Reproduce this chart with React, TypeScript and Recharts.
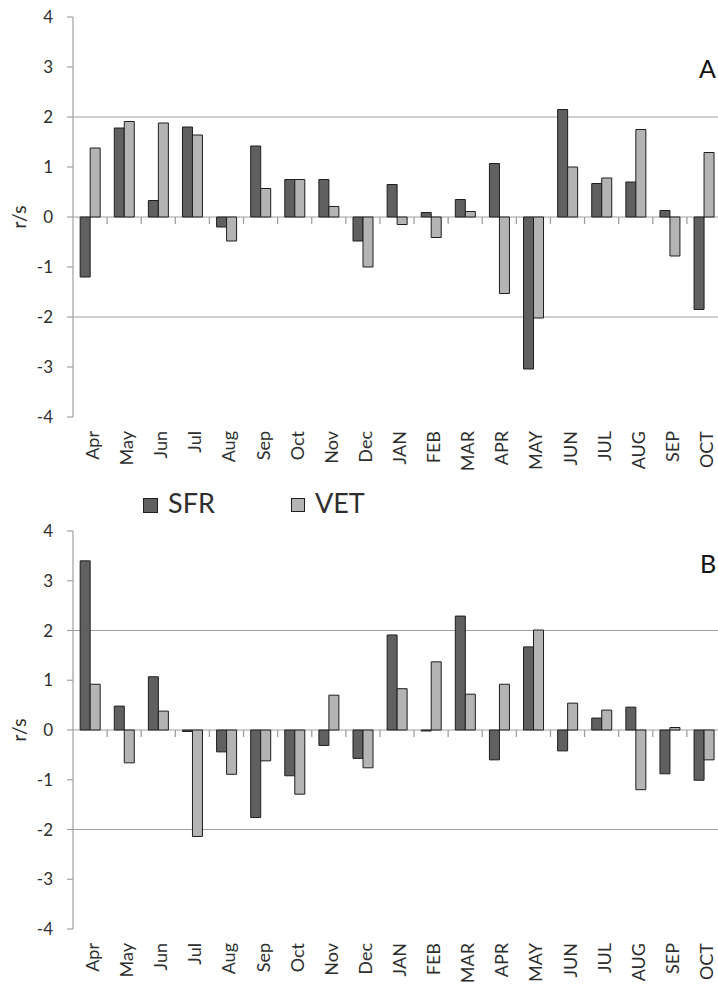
import { Bar, BarChart, CartesianGrid, XAxis, YAxis } from "recharts";

const months = ["Apr", "May", "Jun", "Jul", "Aug", "Sep", "Oct", "Nov", "Dec", "JAN", "FEB", "MAR", "APR", "MAY", "JUN", "JUL", "AUG", "SEP", "OCT"];

const sfrA = [-1.2, 1.78, 0.33, 1.8, -0.2, 1.42, 0.75, 0.75, -0.48, 0.65, 0.09, 0.35, 1.07, -3.04, 2.15, 0.67, 0.7, 0.13, -1.85];
const vetA = [1.38, 1.91, 1.88, 1.64, -0.48, 0.57, 0.75, 0.21, -1.0, -0.15, -0.41, 0.11, -1.53, -2.02, 1.0, 0.78, 1.75, -0.78, 1.29];

const sfrB = [3.4, 0.48, 1.07, -0.03, -0.44, -1.76, -0.92, -0.31, -0.57, 1.91, -0.02, 2.29, -0.6, 1.67, -0.42, 0.24, 0.46, -0.88, -1.01];
const vetB = [0.92, -0.66, 0.38, -2.14, -0.89, -0.62, -1.29, 0.7, -0.76, 0.83, 1.37, 0.72, 0.92, 2.01, 0.54, 0.4, -1.2, 0.05, -0.6];

const yTicks = [-4, -3, -2, -1, 0, 1, 2, 3, 4];
const gridValues = [-2, 0, 2];

const SFR_FILL = "#606060";
const VET_FILL = "#b4b4b4";
const EDGE = "#1e1e1e";
const AXIS = "#a0a0a0";
const TEXT = "#2e2e2e";
const FONT = "Lato, 'Open Sans', sans-serif";
const W = 721;
const Y_W = 73;
const HALF_BAND = (W - Y_W) / months.length / 2;

// category label at the bottom + small separator tick hanging under the zero line
function makeTick(plotH: number) {
  return (props: any) => {
    const { x, y, payload } = props;
    const zeroY = y - plotH / 2;
    const lx = x + 9;
    const ly = y + 14;
    return (
      <g>
        <path d={`M${x + HALF_BAND},${zeroY}V${zeroY + 7}`} stroke={AXIS} strokeWidth={1.3} fill="none" />
        <text
          x={lx}
          y={ly}
          transform={`rotate(-90, ${lx}, ${ly})`}
          textAnchor="end"
          fontSize={18}
          fill={TEXT}
          fontFamily={FONT}
        >
          {payload.value}
        </text>
      </g>
    );
  };
}

function Panel({ sfr, vet, top, plotH, axisH }: { sfr: number[]; vet: number[]; top: number; plotH: number; axisH: number }) {
  const data = months.map((m, i) => ({ m, sfr: sfr[i], vet: vet[i] }));
  return (
    <BarChart
      width={W}
      height={top + plotH + axisH}
      data={data}
      margin={{ top, right: 0, left: 0, bottom: 0 }}
      barCategoryGap="21%"
      barGap={0}
    >
      <CartesianGrid vertical={false} horizontalValues={gridValues} stroke={AXIS} strokeWidth={1.2} />
      <XAxis
        dataKey="m"
        interval={0}
        axisLine={false}
        tickLine={false}
        tickSize={0}
        tickMargin={0}
        height={axisH}
        tick={makeTick(plotH)}
      />
      <YAxis
        type="number"
        domain={[-4, 4]}
        ticks={yTicks}
        width={Y_W}
        stroke={AXIS}
        strokeWidth={1.2}
        tickSize={6}
        tickMargin={14}
        tick={{ fontSize: 17, fill: TEXT, fontFamily: FONT }}
        label={({ viewBox }: any) => {
          const cx = 18;
          const cy = viewBox.y + viewBox.height / 2;
          return (
            <text
              x={cx}
              y={cy}
              transform={`rotate(-90, ${cx}, ${cy})`}
              textAnchor="middle"
              dominantBaseline="central"
              fontSize={20}
              fill={TEXT}
              fontFamily={FONT}
            >
              r/s
            </text>
          );
        }}
      />
      <Bar dataKey="sfr" name="SFR" fill={SFR_FILL} stroke={EDGE} strokeWidth={1} isAnimationActive={false} />
      <Bar dataKey="vet" name="VET" fill={VET_FILL} stroke={EDGE} strokeWidth={1} isAnimationActive={false} />
    </BarChart>
  );
}

export default function App() {
  return (
    <div style={{ position: "absolute", left: 0, top: 0, width: 718, height: 985, overflow: "hidden", background: "#fff" }}>
      <div style={{ position: "absolute", left: 0, top: 0 }}>
        <Panel sfr={sfrA} vet={vetA} top={17} plotH={400} axisH={53} />
      </div>
      <div style={{ position: "absolute", left: 0, top: 470 }}>
        <Panel sfr={sfrB} vet={vetB} top={61} plotH={398} axisH={56} />
      </div>
      <svg width={718} height={985} style={{ position: "absolute", left: 0, top: 0, pointerEvents: "none" }}>
        <text x={699} y={78} fontSize={25} fontFamily={FONT} fill="#111">A</text>
        <text x={700} y={573} fontSize={25} fontFamily={FONT} fill="#111">B</text>
        <rect x={143.5} y={498.5} width={14} height={14} fill={SFR_FILL} stroke={EDGE} />
        <text x={168} y={513} fontSize={27} fontFamily={FONT} fill={TEXT}>SFR</text>
        <rect x={291.5} y={498.5} width={13} height={13} fill={VET_FILL} stroke={EDGE} />
        <text x={315} y={513} fontSize={27} fontFamily={FONT} fill={TEXT}>VET</text>
      </svg>
    </div>
  );
}
